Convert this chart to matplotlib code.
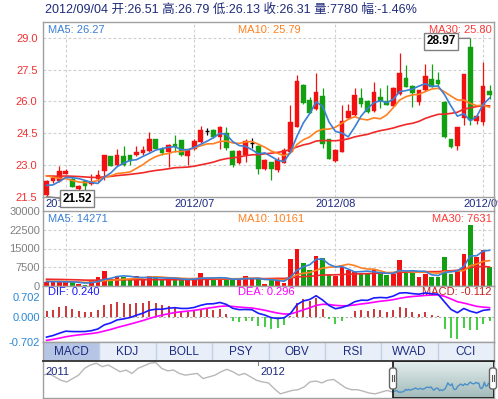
import numpy as np
import pandas as pd
import matplotlib
matplotlib.use("Agg")
import matplotlib.pyplot as plt
import matplotlib.transforms as mtransforms
from matplotlib.patches import Rectangle, FancyBboxPatch
from matplotlib.lines import Line2D

plt.rcParams["font.family"] = ["Liberation Sans", "Noto Sans CJK SC", "DejaVu Sans"]

# trading days 2012/05/29 .. 2012/09/04 (no trading on 06/22)
dates = pd.bdate_range("2012-05-29", "2012-09-04")
dates = dates[dates != pd.Timestamp("2012-06-22")]

opens = [21.58, 22.24, 22.24, 22.60, 22.37, 21.90, 22.24, 22.13, 22.33, 22.73,
         23.42, 23.00, 23.42, 23.47, 23.47, 23.56, 23.66, 24.22, 23.78, 23.60,
         24.00, 24.18, 23.44, 23.75, 24.10, 24.60, 24.65, 24.34, 24.50, 23.66,
         23.11, 23.47, 24.02, 23.90, 22.81, 23.13, 22.76, 23.11, 23.63, 24.81,
         26.78, 26.07, 25.63, 26.26, 24.21, 23.20, 23.63, 25.20, 25.36, 26.18,
         26.02, 25.55, 26.23, 26.00, 25.80, 26.34, 27.10, 26.73, 25.99, 26.54,
         27.05, 27.02, 25.99, 24.23, 23.91, 25.20, 28.54, 25.10, 25.05, 26.51]
highs = [22.30, 22.52, 22.96, 22.80, 22.45, 22.07, 22.30, 22.60, 22.76, 23.50,
         23.45, 23.78, 23.90, 23.50, 23.90, 23.90, 24.54, 24.25, 23.85, 23.98,
         24.40, 24.20, 23.78, 24.25, 24.84, 24.76, 24.68, 24.84, 24.80, 23.70,
         23.70, 24.21, 24.26, 23.95, 23.30, 23.16, 23.40, 23.79, 25.83, 27.25,
         26.80, 26.20, 27.33, 26.62, 24.25, 23.75, 25.83, 25.90, 26.65, 26.62,
         26.05, 26.90, 26.65, 26.78, 26.70, 28.27, 27.72, 26.78, 26.54, 27.75,
         27.75, 27.40, 26.00, 24.25, 24.81, 27.28, 28.97, 25.35, 27.88, 26.79]
lows = [21.52, 22.17, 22.20, 22.58, 21.95, 21.82, 21.82, 22.08, 22.20, 22.29,
        22.94, 22.96, 22.98, 23.00, 23.43, 23.50, 23.60, 23.74, 23.50, 22.92,
        23.60, 23.45, 23.00, 23.70, 24.05, 24.42, 24.30, 23.74, 23.70, 22.92,
        23.05, 23.15, 23.79, 22.56, 22.78, 22.29, 22.68, 23.08, 23.60, 24.80,
        25.90, 25.45, 25.60, 23.79, 23.28, 23.15, 23.60, 25.15, 25.30, 25.76,
        25.45, 25.49, 25.68, 25.83, 25.75, 26.30, 26.70, 25.75, 25.83, 26.50,
        26.70, 26.75, 24.26, 23.79, 23.70, 24.90, 24.90, 24.95, 24.90, 26.13]
closes = [22.24, 22.41, 22.71, 22.74, 21.97, 22.00, 22.00, 22.20, 22.52, 23.47,
          22.96, 23.50, 23.00, 23.19, 23.63, 23.72, 24.22, 23.78, 23.55, 23.94,
          23.86, 23.50, 23.75, 24.13, 24.65, 24.60, 24.34, 24.80, 23.82, 23.00,
          23.66, 24.13, 24.02, 22.84, 23.24, 22.81, 23.24, 23.71, 25.05, 26.98,
          25.94, 25.47, 26.46, 23.99, 23.31, 23.71, 25.10, 25.55, 26.30, 25.90,
          25.49, 26.46, 26.02, 25.85, 26.65, 27.33, 26.70, 26.39, 26.54, 27.20,
          26.70, 26.81, 24.34, 23.87, 24.81, 27.28, 25.13, 25.33, 26.73, 26.31]
volumes = [1700, 1750, 1750, 1500, 1500, 800, 400, 2400, 3700, 6000,
           2800, 4000, 3750, 2800, 4000, 2400, 4000, 3350, 2400, 3600,
           2400, 2400, 2400, 2950, 5200, 2800, 2800, 2800, 2400, 2800,
           2800, 4000, 2800, 2800, 800, 2400, 2400, 1100, 11000, 14700,
           9200, 6500, 12000, 11400, 4300, 3900, 7500, 6600, 5800, 5000,
           4800, 6300, 4800, 4500, 5000, 10500, 5200, 5300, 3600, 4700,
           3600, 3700, 11500, 5000, 6400, 12700, 24500, 11800, 14500, 7780]

# closes / volumes before the visible window (needed for MA and MACD)
pre_close = [28.2, 28.5, 28.3, 28.6, 28.4, 28.7, 28.5, 28.3, 28.6, 28.4,
             28.2, 28.5, 28.3, 28.1, 28.4, 28.2, 28.0, 27.2, 25.8, 24.5, 23.4,
             22.9, 22.7, 22.5, 22.3, 22.4, 22.6, 22.8, 22.7, 22.5, 22.4,
             22.3, 22.2, 22.3, 22.5, 22.6, 22.4, 22.3, 22.5, 22.6, 22.4,
             23.1, 23.2, 22.9, 22.8, 22.75, 22.3, 21.9, 21.8, 22.0]
pre_volume = [3200, 2900, 3500, 3000, 2800, 3300, 3100, 2700, 3400, 3000,
              3200, 2900, 3300, 3100, 2800, 3000, 3400, 3200, 2900, 3200,
              2300, 2100, 2400, 2200, 2000, 1800, 1700, 1900, 1600]

# overview (navigator) closes, 2011 -> 2012/05
nav_history = [31.0, 31.9, 30.1, 28.3, 27.4, 29.2, 31.0, 34.6, 36.4, 37.3,
               35.5, 36.4, 34.6, 32.8, 33.7, 31.9, 34.6, 35.9, 37.3, 37.7,
               34.6, 33.3, 33.7, 31.9, 31.0, 31.5, 31.9, 29.2, 30.1, 31.0,
               32.8, 34.1, 32.8, 31.0, 31.9, 30.1, 28.3, 27.4, 26.9, 23.8,
               21.1, 22.0, 22.9, 23.3, 24.7, 27.4, 27.9, 26.9, 28.3, 28.7,
               26.5, 24.3, 23.3, 23.3, 22.5, 21.5, 21.1, 22.0, 22.9, 22.0]

tabs = ["MACD", "KDJ", "BOLL", "PSY", "OBV", "RSI", "WVAD", "CCI"]

RED = "#f21010"
GREEN = "#12a012"
C_MA5 = "#3a7fd8"
C_MA10 = "#ff8020"
C_MA30 = "#f02828"
NAVY = "#1c2a80"
GRID = "#cfcfcf"
FRAME = "#a0a0a0"

n = len(closes)
x = np.arange(n)
n_pre = len(pre_close)
s_close = pd.Series(pre_close + closes)
s_vol = pd.Series(pre_volume + volumes)
ma = {k: s_close.rolling(k).mean().values[n_pre:] for k in (5, 10, 30)}
vma = {k: s_vol.rolling(k).mean().values[len(pre_volume):] for k in (5, 10, 30)}
dif_all = s_close.ewm(span=12, adjust=False).mean() - s_close.ewm(span=26, adjust=False).mean()
dea_all = dif_all.ewm(span=9, adjust=False).mean()
dif = dif_all.values[n_pre:]
dea = dea_all.values[n_pre:]
macd = 2 * (dif - dea)

month_idx = [i for i in range(n) if i == 0 or dates[i].month != dates[i - 1].month]
month_idx = [i for i in month_idx if dates[i].day <= 3]
month_lab = [dates[i].strftime("%Y/%m") for i in month_idx]

W, H = 498, 399
fig = plt.figure(figsize=(W / 100, H / 100), dpi=100)


def box(x0, y0, x1, y1):
    return [x0 / W, 1 - y1 / H, (x1 - x0) / W, (y1 - y0) / H]


ax_p = fig.add_axes(box(43, 22, 494, 197))
ax_v = fig.add_axes(box(43, 211, 494, 286))
ax_m = fig.add_axes(box(43, 286, 494, 342))
ax_t = fig.add_axes(box(43, 342, 494, 361))
ax_n = fig.add_axes(box(43, 361, 494, 398))

for a in (ax_p, ax_v, ax_m, ax_t, ax_n):
    for sp in a.spines.values():
        sp.set_color(FRAME)
        sp.set_linewidth(1.0)
    a.tick_params(length=0)

# left/right border through the date strip
for px in (43, 494):
    fig.add_artist(Line2D([px / W, px / W], [1 - 211 / H, 1 - 197 / H], color=FRAME, lw=1.0))

xlim = (-0.55, n - 0.3)

# ---- price panel ----
ax_p.set_xlim(*xlim)
ax_p.set_ylim(21.5, 29.74)
for lv in (23.0, 24.5, 26.0, 27.5, 29.0):
    ax_p.axhline(lv, color=GRID, lw=0.8, dashes=(2.5, 2), zorder=0)
for i in month_idx:
    ax_p.axvline(i, color=GRID, lw=0.8, dashes=(2.5, 2), zorder=0)

colors = []
for i in range(n):
    o, h, l, c = opens[i], highs[i], lows[i], closes[i]
    if c > o:
        col = RED
    elif c < o:
        col = GREEN
    else:
        col = "black"
    colors.append(RED if c >= o else GREEN)
    ax_p.vlines(i, l, h, color=col, lw=0.9, zorder=2)
    if c == o:
        ax_p.hlines(c, i - 0.36, i + 0.36, color=col, lw=1.0, zorder=3)
    else:
        ax_p.add_patch(Rectangle((i - 0.36, min(o, c)), 0.72, abs(c - o),
                                 facecolor=col, edgecolor=col, lw=0.3, zorder=3))

ax_p.plot(x, ma[30], color=C_MA30, lw=1.2, zorder=4)
ax_p.plot(x, ma[10], color=C_MA10, lw=1.2, zorder=4)
ax_p.plot(x, ma[5], color=C_MA5, lw=1.2, zorder=5)

ax_p.set_yticks([21.5, 23.0, 24.5, 26.0, 27.5, 29.0])
ax_p.set_yticklabels(["%.1f" % v for v in [21.5, 23.0, 24.5, 26.0, 27.5, 29.0]],
                     color="#f03030", fontsize=8)
ax_p.set_xticks(month_idx)
ax_p.set_xticklabels(month_lab, color=NAVY, fontsize=8)
ax_p.tick_params(axis="x", pad=1.5)
ax_p.tick_params(axis="y", pad=4)

ax_p.text(0.012, 0.985, "MA5: %.2f" % 26.27, transform=ax_p.transAxes, color=C_MA5,
          fontsize=8, va="top", ha="left")
ax_p.text(0.433, 0.985, "MA10: %.2f" % 25.79, transform=ax_p.transAxes, color=C_MA10,
          fontsize=8, va="top", ha="left")
ax_p.text(0.995, 0.985, "MA30: %.2f" % 25.80, transform=ax_p.transAxes, color="#ff3a3a",
          fontsize=8, va="top", ha="right")

imax = int(np.argmax(highs))
imin = int(np.argmin(lows))
ax_p.annotate("%.2f" % highs[imax], xy=(imax, highs[imax]), xytext=(-21, -2.2),
              textcoords="offset points", ha="center", va="center", fontsize=8.5,
              fontweight="bold", color="black", zorder=8,
              bbox=dict(boxstyle="square,pad=0.2", fc="white", ec="#808080", lw=1),
              arrowprops=dict(arrowstyle="-", color="#808080", lw=1, shrinkA=0, shrinkB=0,
                              relpos=(1.0, 0.75)))
ax_p.annotate("%.2f" % lows[imin], xy=(imin, lows[imin]), xytext=(22, -1.5),
              textcoords="offset points", ha="center", va="center", fontsize=8.5,
              fontweight="bold", color="black", zorder=8, annotation_clip=False,
              bbox=dict(boxstyle="square,pad=0.2", fc="white", ec="#808080", lw=1),
              arrowprops=dict(arrowstyle="-", color="#808080", lw=1, shrinkA=0, shrinkB=0,
                              relpos=(0.0, 0.5)))

# ---- volume panel ----
ax_v.set_xlim(*xlim)
ax_v.set_ylim(0, 30000)
for lv in (7500, 15000, 22500):
    ax_v.axhline(lv, color=GRID, lw=0.8, dashes=(2.5, 2), zorder=0)
for i in month_idx:
    ax_v.axvline(i, color=GRID, lw=0.8, dashes=(2.5, 2), zorder=0)
ax_v.bar(x, volumes, width=0.72, color=colors, zorder=2)
ax_v.plot(x, vma[30], color=C_MA30, lw=1.2, zorder=3)
ax_v.plot(x, vma[10], color=C_MA10, lw=1.2, zorder=3)
ax_v.plot(x, vma[5], color=C_MA5, lw=1.2, zorder=4)
ax_v.set_xticks([])
ax_v.set_yticks([0, 7500, 15000, 22500, 30000])
ax_v.set_yticklabels(["0", "7500", "15000", "22500", "30000"], color="#808080", fontsize=8)
ax_v.tick_params(axis="y", pad=2)
ax_v.text(0.012, 0.96, "MA5: 14271", transform=ax_v.transAxes, color=C_MA5,
          fontsize=8, va="top", ha="left")
ax_v.text(0.433, 0.96, "MA10: 10161", transform=ax_v.transAxes, color=C_MA10,
          fontsize=8, va="top", ha="left")
ax_v.text(0.995, 0.96, "MA30: 7631", transform=ax_v.transAxes, color="#ff3a3a",
          fontsize=8, va="top", ha="right")

# ---- MACD panel ----
ax_m.set_xlim(*xlim)
ax_m.set_ylim(-0.702, 0.889)
ax_m.axhline(0, color="#b0b0b0", lw=0.8, dashes=(2, 2), zorder=0)
ax_m.vlines(x, 0, macd, colors=["#c00000" if v >= 0 else "#10c010" for v in macd],
            lw=1.1, zorder=2)
ax_m.plot(x, dea, color="#ff00ff", lw=1.2, zorder=3)
ax_m.plot(x, dif, color="#1a1aff", lw=1.2, zorder=4)
ax_m.set_xticks([])
ax_m.set_yticks([0.702, 0.0, -0.702])
ax_m.set_yticklabels(["0.702", "0.000", "-0.702"], color="#2a88d8", fontsize=8)
ax_m.get_yticklabels()[0].set_va("top")
ax_m.tick_params(axis="y", pad=2)
ax_m.text(0.012, 0.985, "DIF: 0.240", transform=ax_m.transAxes, color="#1a1aff",
          fontsize=8, va="top", ha="left")
ax_m.text(0.433, 0.985, "DEA: 0.296", transform=ax_m.transAxes, color="#ff00ff",
          fontsize=8, va="top", ha="left")
ax_m.text(0.995, 0.985, "MACD: -0.112", transform=ax_m.transAxes, color="#c82020",
          fontsize=8, va="top", ha="right")

# ---- indicator tabs ----
ax_t.set_xlim(0, len(tabs))
ax_t.set_ylim(0, 1)
ax_t.set_xticks([])
ax_t.set_yticks([])
for k, name in enumerate(tabs):
    ax_t.add_patch(Rectangle((k, 0), 1, 1, facecolor="#b5c5e3" if k == 0 else "#e9eff9",
                             edgecolor="none"))
    if k > 0:
        ax_t.axvline(k, color="#c4d0e6", lw=1)
    ax_t.text(k + 0.5, 0.47, name, ha="center", va="center", fontsize=8.5, color=NAVY)

# ---- navigator ----
n_hist = len(nav_history)
split, end = 350, 451
ax_n.set_xlim(0, end)
ax_n.set_ylim(18.9, 38.5)
ax_n.set_xticks([])
ax_n.set_yticks([])
ax_n.spines["top"].set_color("#333333")
ax_n.spines["top"].set_linewidth(1.3)
grad = np.linspace(0, 1, 50).reshape(-1, 1)
ax_n.imshow(grad, extent=(split, end, 18.9, 38.5), aspect="auto", origin="upper",
            cmap=matplotlib.colors.LinearSegmentedColormap.from_list("sel", ["#e4eded", "#a2baba"]),
            zorder=0)
ax_n.plot(np.linspace(0, split, n_hist), nav_history, color="#b8b8b8", lw=1.0, zorder=1)
ax_n.plot(np.linspace(split, end - 4, n), closes, color="#4a90c8", lw=1.0, zorder=2)
ax_n.add_patch(Rectangle((split, 18.9), end - split, 38.5 - 18.9, fill=False,
                         edgecolor="#222222", lw=1.3, zorder=3))
trans = mtransforms.blended_transform_factory(ax_n.transData, ax_n.transAxes)
ax_n.text(2, 0.71, "2011", transform=trans, fontsize=8, color=NAVY, va="center", ha="left")
ax_n.add_line(Line2D([215, 215], [0.88, 1.0], transform=trans, color="#888888", lw=0.8))
ax_n.text(217, 0.71, "2012", transform=trans, fontsize=8, color=NAVY, va="center", ha="left")

# selection handles, drawn on a pixel-unit overlay
ax_h = fig.add_axes(box(43, 361, 494, 398), facecolor="none")
ax_h.set_xlim(0, 451)
ax_h.set_ylim(37, 0)
ax_h.axis("off")
for hx in (split, end - 1):
    ax_h.add_patch(FancyBboxPatch((hx - 3.5, 7), 7, 21, boxstyle="round,pad=0,rounding_size=2.5",
                                  facecolor="white", edgecolor="#666666", lw=1, zorder=5,
                                  clip_on=False))
    for dx in (-1.3, 1.3):
        ax_h.add_line(Line2D([hx + dx, hx + dx], [14, 20], color="#555555", lw=0.8,
                             zorder=6, clip_on=False))

# ---- header ----
fig.text(45 / W, 1 - 10 / H,
         "2012/09/04 开:26.51 高:26.79 低:26.13 收:26.31 量:7780 幅:-1.46%",
         fontsize=9, color="#1e2a78", va="center", ha="left")

fig.savefig("out.png", dpi=100)
